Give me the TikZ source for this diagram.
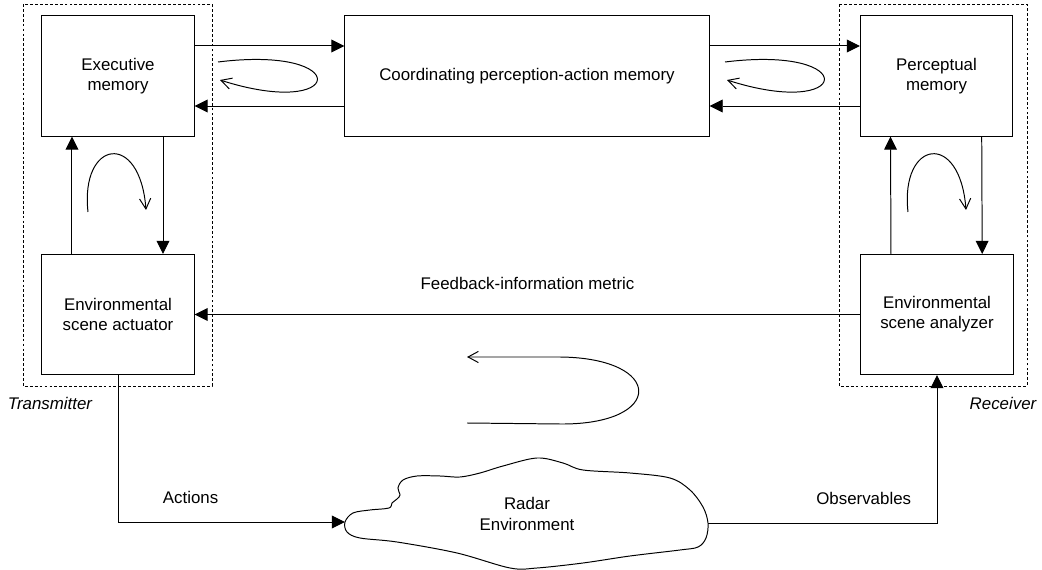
\documentclass[tikz,border=0pt]{standalone}
\usepackage{fontspec}
\setmainfont{Liberation Sans}
\usetikzlibrary{arrows.meta, positioning}

\begin{document}
\begin{tikzpicture}[x=0.025cm, y=-0.025cm, line width=0.7pt,
    block/.style={draw, minimum width=3.8cm, minimum height=3cm, align=center, font=\fontsize{12}{14.4}\selectfont},
    lbl/.style={font=\fontsize{12}{14.4}\selectfont},
    side/.style={font=\fontsize{12}{14.4}\selectfont\itshape},
    arr/.style={-{Triangle[length=3.3mm, width=3.2mm]}},
    turn/.style={-{Straight Barb[length=2.6mm, width=2.8mm]}},
    grp/.style={dash pattern=on 2pt off 1.5pt, line width=0.5pt}]
    \useasboundingbox (0,0) rectangle (1042,570);

    % Transmitter
    \draw[grp] (23,4) rectangle (212,386);
    \node[block] (exec) at (118,76) {Executive\\memory};
    \node[block] (act) at (118,314.5) {Environmental\\scene actuator};
    \node[side] (tx) at (50,403) {Transmitter};
    \draw[arr] ([xshift=-1.15cm]act.north) -- ([xshift=-1.15cm]exec.south);
    \draw[arr] ([xshift=1.125cm]exec.south) -- ([xshift=1.125cm]act.north);
    \draw[turn] (88,212) .. controls (80,140) and (140,130) .. (146,210);

    % Receiver
    \draw[grp] (839,4) rectangle (1027,386);
    \node[block] (perc) at (936.5,76) {Perceptual\\memory};
    \node[block] (ana) at (937,314.5) {Environmental\\scene analyzer};
    \node[side] (rx) at (1003,403) {Receiver};
    \draw[arr] ([xshift=-1.15cm]ana.north) -- ([xshift=-1.15cm]perc.south);
    \draw[arr] ([xshift=1.13cm]perc.south) -- ([xshift=1.13cm]ana.north);
    \draw[turn] (908,212) .. controls (900,140) and (960,130) .. (966,210);

    % Coordinating memory and its links
    \node[block, minimum width=9.1cm] (coord) at (527,76) {Coordinating perception-action memory};
    \draw[arr] ([yshift=0.75cm]exec.east) -- ([yshift=0.75cm]coord.west);
    \draw[arr] ([yshift=-0.75cm]coord.west) -- ([yshift=-0.75cm]exec.east);
    \draw[arr] ([yshift=0.75cm]coord.east) -- ([yshift=0.75cm]perc.west);
    \draw[arr] ([yshift=-0.75cm]perc.west) -- ([yshift=-0.75cm]coord.east);
    \draw[turn] (218,62) .. controls (355,45) and (345,120) .. (220,80);
    \draw[turn] (725,62) .. controls (862,45) and (852,120) .. (727,80);

    % Feedback
    \draw[arr] (ana.west) -- node[lbl, midway, above=0.5cm] (fb) {Feedback-information metric} (act.east);
    \draw[turn] (467,423) -- (560,424) .. controls (665,425) and (665,358) .. (560,357) -- (467,357);

    % Radar environment
    \draw plot[smooth cycle, tension=0.55] coordinates {(345,522) (353,513) (370,510) (389,508) (392,503)
        (397,499) (400,495) (398,488) (403,480) (417,476) (440,476) (460,477) (480,473) (503,466)
        (537,458) (563,463) (583,470) (630,473) (670,478) (690,490) (703,507) (708,523) (706,538)
        (698,547) (680,550) (630,556) (583,563) (537,568) (510,568) (457,553) (397,542) (360,538) (347,532)};
    \node[lbl, align=center] (env) at (527,514) {Radar\\Environment};
    \coordinate (envW) at (345,522);
    \coordinate (envE) at (708,523);
    \draw[arr] (act.south) |- node[lbl, pos=0.66, above=0.32cm] (actl) {Actions} (envW);
    \draw[arr] (envE) -| node[lbl, pos=0.34, above=0.32cm] (obsl) {Observables} (ana.south);
\end{tikzpicture}
\end{document}
